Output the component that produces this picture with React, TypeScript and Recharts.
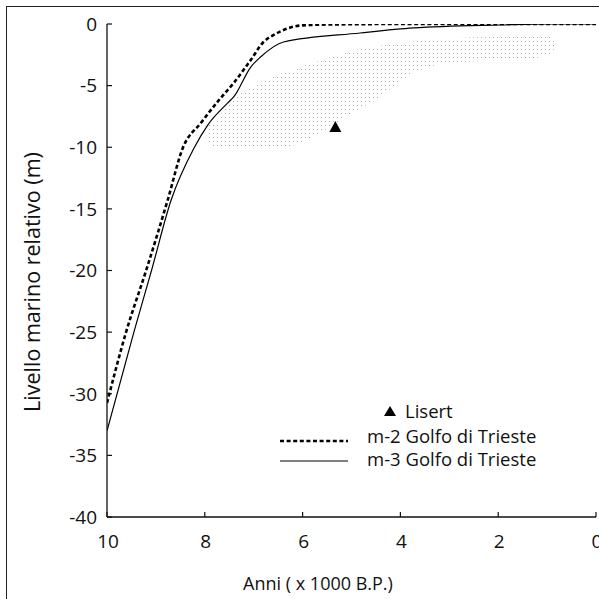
import React from 'react';
import { ComposedChart, Line, Area, XAxis, YAxis, ReferenceDot, Legend } from 'recharts';

const xTicks = [10, 8, 6, 4, 2, 0];
const yTicks = [0, -5, -10, -15, -20, -25, -30, -35, -40];

// m-2 Golfo di Trieste (dashed)
const m2Years = [10, 9.61, 9.2, 8.76, 8.45, 8.08, 7.71, 7.41, 7.06, 6.8, 6.59, 6.39, 6.04, 5.43, 4, 2, 0];
const m2Level = [-30.75, -25, -20, -14.3, -10.06, -8.03, -6.17, -4.79, -2.92, -1.46, -0.89, -0.49, -0.12, -0.04, 0, 0, 0];

// m-3 Golfo di Trieste (solid)
const m3Years = [10, 9.45, 9.09, 8.69, 8.22, 7.94, 7.53, 7.41, 7.06, 6.86, 6.39, 4.82, 3.73, 1.96, 0.94, 0];
const m3Level = [-33, -25, -20, -14.3, -10.06, -8.2, -6.4, -5.92, -3.49, -2.68, -1.46, -0.73, -0.32, -0.08, 0, 0];

// dotted envelope (low / high bound)
const shadeYears = [7.98, 7.78, 7.47, 7.0, 6.5, 6.24, 5.84, 5.5, 5.22, 4.8, 4.41, 4.0, 3.69, 3.0, 2.0, 0.94, 0.84];
const shadeLow = [-9.4, -10.06, -10.06, -10.0, -9.95, -9.9, -9.25, -8.5, -7.79, -6.8, -5.92, -4.6, -3.89, -3.16, -2.95, -2.6, -1.8];
const shadeHigh = [-8.2, -7.8, -6.3, -5.0, -4.1, -3.8, -3.2, -2.8, -2.45, -2.0, -1.75, -1.54, -1.4, -1.15, -1.05, -1.05, -1.6];

// Lisert
const lisertYear = 5.33;
const lisertLevel = -8.36;

const legendLabels = ['Lisert', 'm-2 Golfo di Trieste', 'm-3 Golfo di Trieste'];
const xLabel = 'Anni ( x 1000 B.P.)';
const yLabel = 'Livello marino relativo (m)';

const FONT = '"Open Sans", sans-serif';

type Row = { x: number; m2?: number; m3?: number; shade?: [number, number] };

function buildRows(): Row[] {
  const map = new Map<number, Row>();
  const get = (x: number) => {
    if (!map.has(x)) map.set(x, { x });
    return map.get(x)!;
  };
  m2Years.forEach((x, i) => (get(x).m2 = m2Level[i]));
  m3Years.forEach((x, i) => (get(x).m3 = m3Level[i]));
  shadeYears.forEach((x, i) => (get(x).shade = [shadeLow[i], shadeHigh[i]]));
  return Array.from(map.values()).sort((a, b) => b.x - a.x);
}

const rows = buildRows();

const TICK_LEN = 5;

const LeftTick = (props: any) => {
  const { x, y, payload } = props;
  return (
    <g>
      <line x1={x + 10} x2={x + 10 + TICK_LEN} y1={y} y2={y} stroke="#111" strokeWidth={1.2} />
      <text x={x} y={y} dy="0.36em" textAnchor="end" fontSize={19} fill="#111" fontFamily={FONT}>
        {payload.value}
      </text>
    </g>
  );
};

const BottomTick = (props: any) => {
  const { x, y, payload } = props;
  return (
    <g>
      <line x1={x} x2={x} y1={y} y2={y - TICK_LEN} stroke="#111" strokeWidth={1.2} />
      <text x={x + 1} y={y + 31} textAnchor="middle" fontSize={19} fill="#111" fontFamily={FONT}>
        {payload.value}
      </text>
    </g>
  );
};

const TopTick = (props: any) => {
  const { x, y } = props;
  return <line x1={x} x2={x} y1={y} y2={y + TICK_LEN} stroke="#111" strokeWidth={1.2} />;
};

const RightTick = (props: any) => {
  const { x, y } = props;
  return <line x1={x} x2={x - TICK_LEN} y1={y} y2={y} stroke="#111" strokeWidth={1.2} />;
};

const Triangle = (props: any) => {
  const { cx, cy } = props;
  return <path d={`M${cx},${cy - 6} L${cx + 6},${cy + 5} L${cx - 6},${cy + 5} Z`} fill="#000" />;
};

const LegendBox = () => (
  <svg width={300} height={75} style={{ overflow: 'visible', display: 'block' }}>
    <path d="M110,8 L116,18 L104,18 Z" fill="#000" />
    <text x={125} y={20} fontSize={18.5} fill="#111" fontFamily={FONT}>{legendLabels[0]}</text>
    <line x1={0} x2={68} y1={43} y2={43} stroke="#000" strokeWidth={2.6} strokeDasharray="4 2.6" />
    <text x={87} y={45} fontSize={18.5} fill="#111" fontFamily={FONT}>{legendLabels[1]}</text>
    <line x1={0} x2={68} y1={63} y2={63} stroke="#000" strokeWidth={1.2} />
    <text x={87} y={68} fontSize={18.5} fill="#111" fontFamily={FONT}>{legendLabels[2]}</text>
  </svg>
);

export default function App() {
  return (
    <div style={{ position: 'relative', width: 599, height: 599, overflow: 'hidden', background: '#fff', fontFamily: FONT }}>
      <style>{`body{margin:0}`}</style>
      <div
        style={{
          position: 'absolute',
          left: 6,
          top: 6,
          width: 700,
          height: 700,
          borderLeft: '1.6px solid #222',
          borderTop: '1.6px solid #222',
        }}
      />
      <div style={{ position: 'absolute', left: 0, top: 0 }}>
        <ComposedChart width={599} height={599} data={rows} margin={{ top: 24, right: 3, bottom: 0, left: 0 }}>
          <defs>
            <pattern id="dots" width="4" height="4" patternUnits="userSpaceOnUse">
              <rect x="1" y="1" width="1" height="1" fill="#ababab" />
            </pattern>
          </defs>
          <XAxis
            xAxisId="b"
            dataKey="x"
            type="number"
            domain={[0, 10]}
            reversed
            ticks={xTicks}
            interval={0}
            height={82}
            tickSize={0}
            tickMargin={0}
            tickLine={false}
            axisLine={{ stroke: '#111', strokeWidth: 1.3 }}
            tick={<BottomTick />}
            allowDataOverflow
            label={{
              content: () => (
                <text x={318} y={590} textAnchor="middle" fontSize={18} fill="#111" fontFamily={FONT}>
                  {xLabel}
                </text>
              ),
            }}
          />
          <XAxis
            xAxisId="t"
            dataKey="x"
            type="number"
            orientation="top"
            domain={[0, 10]}
            reversed
            ticks={xTicks}
            interval={0}
            height={0}
            tickSize={0}
            tickMargin={0}
            tickLine={false}
            axisLine={{ stroke: '#111', strokeWidth: 1.3 }}
            tick={<TopTick />}
            allowDataOverflow
          />
          <YAxis
            yAxisId="l"
            type="number"
            domain={[-40, 0]}
            ticks={yTicks}
            interval={0}
            width={107}
            tickSize={0}
            tickMargin={10}
            tickLine={false}
            axisLine={{ stroke: '#111', strokeWidth: 1.3 }}
            tick={<LeftTick />}
            allowDataOverflow
            label={{
              content: () => (
                <text
                  x={40}
                  y={282}
                  transform="rotate(-90 40 282)"
                  textAnchor="middle"
                  fontSize={21.5}
                  fill="#111"
                  fontFamily={FONT}
                >
                  {yLabel}
                </text>
              ),
            }}
          />
          <YAxis
            yAxisId="r"
            type="number"
            orientation="right"
            domain={[-40, 0]}
            ticks={yTicks}
            interval={0}
            width={0}
            tickSize={0}
            tickMargin={0}
            tickLine={false}
            axisLine={{ stroke: '#111', strokeWidth: 1.3 }}
            tick={<RightTick />}
            allowDataOverflow
          />
          <Area
            xAxisId="b"
            yAxisId="l"
            dataKey="shade"
            type="monotone"
            stroke="none"
            fill="url(#dots)"
            fillOpacity={1}
            connectNulls
            isAnimationActive={false}
            dot={false}
            activeDot={false}
          />
          <Line
            xAxisId="b"
            yAxisId="l"
            dataKey="m3"
            type="monotone"
            stroke="#000"
            strokeWidth={1.2}
            dot={false}
            activeDot={false}
            connectNulls
            isAnimationActive={false}
          />
          <Line
            xAxisId="b"
            yAxisId="l"
            dataKey="m2"
            type="monotone"
            stroke="#000"
            strokeWidth={2.6}
            strokeDasharray="4 2.6"
            dot={false}
            activeDot={false}
            connectNulls
            isAnimationActive={false}
          />
          <ReferenceDot xAxisId="b" yAxisId="l" x={lisertYear} y={lisertLevel} shape={<Triangle />} ifOverflow="visible" />
          <Legend
            layout="horizontal"
            verticalAlign="middle"
            align="center"
            content={() => <LegendBox />}
            wrapperStyle={{ left: 280, top: 398, width: 300, height: 75 }}
          />
        </ComposedChart>
      </div>
    </div>
  );
}
